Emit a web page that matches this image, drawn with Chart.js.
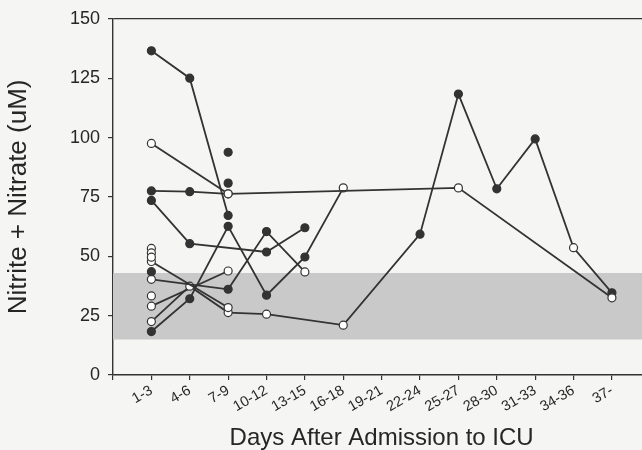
<!DOCTYPE html>
<html>
<head>
<meta charset="utf-8">
<script src="https://cdn.jsdelivr.net/npm/chart.js@4.4.1/dist/chart.umd.min.js"></script>
<style>
  html, body { margin: 0; padding: 0; overflow: hidden; background: #f5f5f3; }
  canvas { display: block; }
</style>
</head>
<body>
<canvas id="nox" width="661" height="450"></canvas>
<script>
var days = ["1-3", "4-6", "7-9", "10-12", "13-15", "16-18", "19-21",
  "22-24", "25-27", "28-30", "31-33", "34-36", "37-"];
var yTicks = [0, 25, 50, 75, 100, 125, 150];
var normalRange = [15, 43];

// one array per patient, null = no sample; 1 = filled dot, 0 = open dot
var pat1 = [136.5, 125, 67.2, null, null, null, null, null, null, null, null, null, null];
var pat1Dot = [1, 1, 1];
var pat2 = [97.5, null, 76.3, null, null, null, null, null, null, null, null, null, null];
var pat2Dot = [0, 0, 0];
var pat3 = [77.5, 77.2, 76.3, null, null, null, null, null, 78.8, null, null, null, 32.5];
var pat3Dot = [1, 1, 0, 0, 0, 0, 0, 0, 0, 0, 0, 0, 0];
var pat4 = [73.5, 55.3, null, 51.8, 62.0, null, null, null, null, null, null, null, null];
var pat4Dot = [1, 1, 1, 1, 1];
var pat5 = [40.3, null, 36.1, 60.4, 43.4, null, null, null, null, null, null, null, null];
var pat5Dot = [0, 0, 1, 1, 0];
var pat6 = [47.8, null, 28.4, null, null, null, null, null, null, null, null, null, null];
var pat6Dot = [0, 0, 0];
var pat7 = [22.5, 37.4, 26.3, 25.6, null, 21.0, null, 59.3, 118.3, 78.4, 99.4, 53.6, 34.6];
var pat7Dot = [0, 0, 0, 0, 0, 0, 0, 1, 1, 1, 1, 0, 1];
var pat8 = [29.0, null, 43.8, null, null, null, null, null, null, null, null, null, null];
var pat8Dot = [0, 0, 0];
var pat9 = [18.3, 32.1, 62.6, 33.6, 49.7, 78.8, null, null, null, null, null, null, null];
var pat9Dot = [1, 1, 1, 1, 1, 0];

// single samples without a follow-up
var singleDay = ["1-3", "1-3", "1-3", "1-3", "1-3", "7-9", "7-9"];
var singleVal = [53.3, 51.4, 49.6, 43.5, 33.3, 93.8, 80.8];
var singleDot = [0, 0, 0, 1, 0, 1, 1];

var ink = "#333333";
var txt = "#262626";
var labels = [""].concat(days, [""]);

function pad(arr) {
  return [null].concat(arr, [null]);
}

function patient(vals, dots) {
  var fills = [ink].concat(vals.map(function (v, i) {
    return dots[i] ? ink : "#ffffff";
  }), [ink]);
  return {
    data: pad(vals),
    borderColor: ink,
    borderWidth: 1.8,
    spanGaps: true,
    pointRadius: 4,
    pointBorderWidth: 1.2,
    pointBorderColor: ink,
    pointBackgroundColor: fills,
    fill: false,
    order: 1
  };
}

var bandTop = labels.map(function () { return normalRange[1]; });
var bandBottom = labels.map(function () { return normalRange[0]; });

var datasets = [
  {
    data: bandTop, borderWidth: 0, pointRadius: 0,
    backgroundColor: "#c9c9c9", fill: "+1", order: 99
  },
  {
    data: bandBottom, borderWidth: 0, pointRadius: 0,
    fill: false, order: 99
  },
  patient(pat1, pat1Dot),
  patient(pat2, pat2Dot),
  patient(pat3, pat3Dot),
  patient(pat4, pat4Dot),
  patient(pat5, pat5Dot),
  patient(pat6, pat6Dot),
  patient(pat7, pat7Dot),
  patient(pat8, pat8Dot),
  patient(pat9, pat9Dot),
  {
    data: singleVal.map(function (v, i) { return { x: singleDay[i], y: v }; }),
    showLine: false,
    pointRadius: 4,
    pointBorderWidth: 1.2,
    pointBorderColor: ink,
    pointBackgroundColor: singleDot.map(function (d) { return d ? ink : "#ffffff"; }),
    order: 0
  }
];

new Chart(document.getElementById("nox"), {
  type: "line",
  data: { labels: labels, datasets: datasets },
  options: {
    responsive: false,
    animation: false,
    layout: { padding: { top: 18, right: 2, left: 0, bottom: 0 } },
    plugins: { legend: { display: false }, tooltip: { enabled: false } },
    scales: {
      x: {
        afterFit: function (s) { s.height = 75; },
        grid: { drawOnChartArea: false, tickLength: 5, tickColor: ink, lineWidth: 1.2 },
        border: { color: ink, width: 1.4 },
        ticks: {
          autoSkip: false, maxRotation: 30, minRotation: 30, padding: 2,
          color: txt,
          font: { family: "Liberation Sans", size: 14.5 }
        },
        title: {
          display: true, text: "Days After Admission to ICU",
          color: txt, padding: { top: 0, bottom: -3 },
          font: { family: "Liberation Sans", size: 24 }
        }
      },
      y: {
        min: 0, max: 150,
        afterFit: function (s) { s.width = 113; },
        afterBuildTicks: function (s) {
          s.ticks = yTicks.map(function (v) { return { value: v }; });
        },
        grid: {
          tickLength: 5, tickColor: ink, lineWidth: 1.2,
          color: function (c) { return c.tick && c.tick.value === 150 ? ink : "transparent"; }
        },
        border: { color: ink, width: 1.4 },
        ticks: {
          padding: 8, color: txt,
          font: { family: "Liberation Sans", size: 18 }
        },
        title: {
          display: true, text: "Nitrite + Nitrate (uM)",
          color: txt, padding: { top: 3, bottom: 0 },
          font: { family: "Liberation Sans", size: 26 }
        }
      }
    }
  }
});
</script>
</body>
</html>
